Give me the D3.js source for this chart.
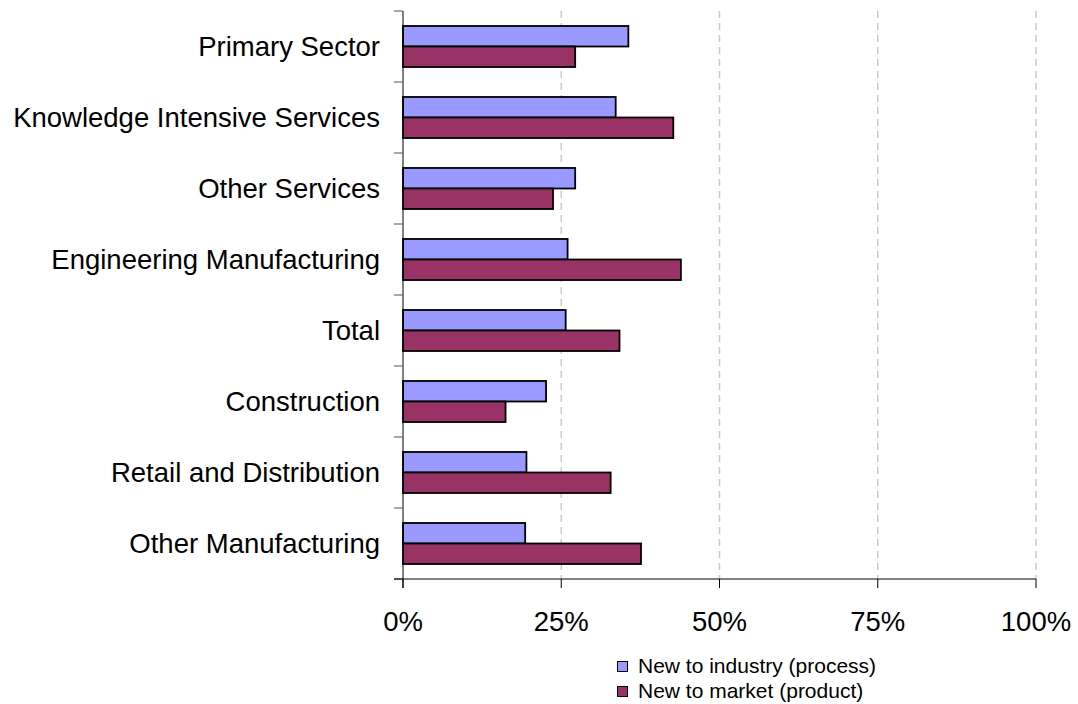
<!doctype html>
<html>
<head>
<meta charset="utf-8">
<title>Innovation by sector</title>
<style>
  body { margin: 0; background: #fff; }
  svg text { font-family: "Liberation Sans", Arial, sans-serif; fill: #000; }
</style>
</head>
<body>
<svg id="chart" width="1078" height="704"></svg>
<script src="https://d3js.org/d3.v7.min.js"></script>
<script>
// data
const categories = ["Primary Sector", "Knowledge Intensive Services", "Other Services",
  "Engineering Manufacturing", "Total", "Construction", "Retail and Distribution", "Other Manufacturing"];
const seriesNames = ["New to industry (process)", "New to market (product)"];
const processVals = [35.6, 33.6, 27.2, 26.0, 25.7, 22.6, 19.5, 19.3];
const productVals = [27.2, 42.7, 23.7, 43.9, 34.2, 16.2, 32.8, 37.6];
const xTicks = [0, 25, 50, 75, 100];
const colors = ["#9999ff", "#993366"];

const svg = d3.select("#chart");

const x = d3.scaleLinear().domain([0, 100]).range([403, 1036]);
const y = d3.scaleBand().domain(categories).range([11, 579]);
const ySub = d3.scaleBand().domain(seriesNames).range([0, y.bandwidth()]).paddingOuter(0.73);

// dashed gridlines
svg.append("g")
  .selectAll("line")
  .data(xTicks.filter(d => d > 0))
  .join("line")
    .attr("x1", d => x(d)).attr("x2", d => x(d))
    .attr("y1", 11).attr("y2", 579)
    .attr("stroke", "#cccccc")
    .attr("stroke-width", 1.5)
    .attr("stroke-dasharray", "7,5");

// bars
const rows = categories.map((c, i) => ({cat: c, vals: [processVals[i], productVals[i]]}));
const groups = svg.append("g")
  .selectAll("g")
  .data(rows)
  .join("g")
    .attr("transform", d => "translate(0," + y(d.cat) + ")");

groups.selectAll("rect")
  .data(d => d.vals.map((v, j) => ({s: seriesNames[j], v: v, j: j})))
  .join("rect")
    .attr("x", x(0))
    .attr("y", d => ySub(d.s))
    .attr("width", d => x(d.v) - x(0))
    .attr("height", ySub.bandwidth())
    .attr("fill", d => colors[d.j])
    .attr("stroke", "#000")
    .attr("stroke-width", 1.8);

// y axis
const yAxis = svg.append("g").attr("transform", "translate(403,0)");
yAxis.append("line").attr("x1", 0).attr("x2", 0).attr("y1", 11).attr("y2", 588)
  .attr("stroke", "#000").attr("stroke-width", 1);
const yTickPos = categories.map(c => y(c)).concat([y.range()[1]]);
yAxis.selectAll("line.tick")
  .data(yTickPos)
  .join("line")
    .attr("class", "tick")
    .attr("x1", -9).attr("x2", 0)
    .attr("y1", d => d).attr("y2", d => d)
    .attr("stroke", "#555").attr("stroke-width", 1);
yAxis.selectAll("text")
  .data(categories)
  .join("text")
    .attr("x", -23)
    .attr("y", d => y(d) + y.bandwidth() / 2 + 9.8)
    .attr("text-anchor", "end")
    .attr("font-size", "27.5px")
    .text(d => d);

// x axis
const xAxis = svg.append("g").attr("transform", "translate(0,579)");
xAxis.append("line").attr("x1", 394).attr("x2", x(100)).attr("y1", 0).attr("y2", 0)
  .attr("stroke", "#000").attr("stroke-width", 1);
xAxis.selectAll("line.tick")
  .data(xTicks)
  .join("line")
    .attr("class", "tick")
    .attr("x1", d => x(d)).attr("x2", d => x(d))
    .attr("y1", 0).attr("y2", 9)
    .attr("stroke", "#000").attr("stroke-width", 1);
xAxis.selectAll("text")
  .data(xTicks)
  .join("text")
    .attr("x", d => x(d))
    .attr("y", 52)
    .attr("text-anchor", "middle")
    .attr("font-size", "27.5px")
    .text(d => d + "%");

// legend
const legend = svg.append("g").attr("transform", "translate(617,661)");
const li = legend.selectAll("g")
  .data(seriesNames)
  .join("g")
    .attr("transform", (d, i) => "translate(0," + i * 25 + ")");
li.append("rect")
  .attr("x", 0.5).attr("y", 0.5)
  .attr("width", 10).attr("height", 10)
  .attr("fill", (d, i) => colors[i])
  .attr("stroke", "#000").attr("stroke-width", 1);
li.append("text")
  .attr("x", 21)
  .attr("y", 11.5)
  .attr("font-size", "21px")
  .text(d => d);
</script>
</body>
</html>
